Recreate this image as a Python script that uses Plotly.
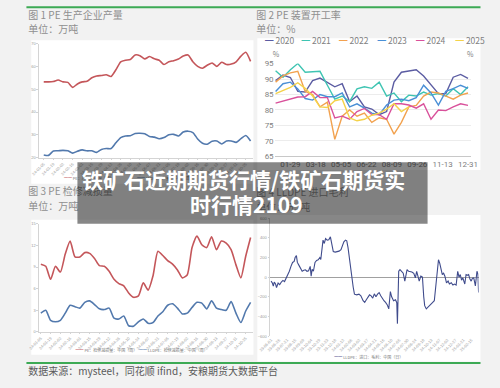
import plotly.graph_objects as go
import pandas as pd

W, H = 500, 388
def fx(px): return px / W
def fy(py): return 1 - py / H

# ---------------- Chart 1: PE 生产企业产量 (万吨, weekly) ----------------
c1_dates = pd.date_range("2024-01-05", periods=44, freq="7D")
pe_output = [53.2, 53.2, 53.4, 54.0, 53.2, 53.0, 50.8, 52.3, 53.2, 53.5,
             55.0, 55.8, 56.0, 56.3, 55.6, 58.5, 62.0, 62.7, 63.0, 65.0,
             64.7, 63.3, 64.3, 63.3, 62.7, 60.8, 62.0, 62.5, 63.2, 64.5,
             65.0, 62.0, 60.0, 59.2, 60.5, 61.5, 60.0, 61.8, 60.8, 61.0,
             62.0, 64.5, 66.2, 62.2]
lldpe_output = [21.2, 21.0, 22.9, 23.0, 23.2, 23.0, 22.0, 22.8, 23.4, 23.0,
                23.0, 22.3, 23.6, 24.0, 24.0, 26.5, 28.8, 29.5, 29.6, 30.6,
                30.7, 30.5, 29.3, 29.0, 28.3, 28.8, 30.0, 30.2, 29.5, 31.2,
                31.6, 31.0, 28.2, 26.3, 25.9, 27.2, 27.3, 26.0, 27.3, 27.3,
                26.7, 28.3, 29.7, 27.3]

# ---------------- Chart 2: PE 装置开工率 (%) ----------------
rate_dates = pd.date_range("2021-01-01", periods=27, freq="14D")
rate_2020 = [89.5, 91.3, 90.5, 86.0, 85.8, 89.5, 90.3, 89.0, 87.5, 88.5, 82.7, 84.5, 81.0, 80.3,
             78.5, 79.5, 89.0, 92.2, 92.5, 93.0, 91.0, 88.0, 85.3, 85.3, 90.6, 91.5, 90.2]
rate_2021 = [92.7, 90.6, 93.0, 95.0, 92.2, 92.3, 92.5, 88.0, 83.5, 84.5, 82.7, 86.8, 87.5, 87.0,
             89.0, 84.5, 85.5, 82.7, 84.8, 84.5, 85.8, 84.8, 85.3, 84.5, 86.9, 85.0, 87.5]
rate_2022 = [89.0, 91.0, 92.0, 92.5, 86.0, 85.0, 81.0, 82.5, 70.5, 78.0, 80.0, 78.0, 79.0, 76.0,
             77.5, 77.0, 72.2, 76.0, 81.0, 81.5, 84.5, 85.8, 85.5, 84.5, 83.5, 84.8, 85.5]
rate_2023 = [86.0, 88.5, 89.0, 86.8, 83.7, 83.2, 85.0, 84.3, 84.3, 85.5, 81.0, 82.0, 80.6, 79.0,
             78.5, 81.6, 83.2, 83.5, 83.0, 84.0, 88.0, 85.5, 81.6, 86.0, 86.9, 88.0, 87.0]
rate_2024 = [82.2, 82.8, 83.6, 84.2, 84.3, 86.0, 84.0, 84.0, 77.4, 78.0, 77.0, 79.5, 80.5, 78.5,
             78.5, 77.0, 82.0, 82.0, 81.6, 80.6, 82.0, 77.0, 80.0, 79.8, 81.0, 82.0, 81.5]
rate_2025 = [85.3, 86.3, 87.3, 88.8, 87.0, 84.5, 81.0, 80.8, 83.0, 83.5, 77.4, 76.5, 77.0, 78.3,
             79.0, 80.3, 82.0, 79.5, 81.0]
rate_years = ["2020", "2021", "2022", "2023", "2024", "2025"]
rate_colors = ["#5b5ca2", "#3ec4b2", "#f2a24f", "#4a8fd6", "#d9519b", "#f4d24a"]
rate_ticks = ["2021-01-29", "2021-03-18", "2021-05-05", "2021-06-22",
              "2021-08-09", "2021-09-26", "2021-11-13", "2021-12-31"]

# ---------------- Chart 3: PE 检修减损量 (万吨, weekly) ----------------
c3_dates = pd.date_range("2024-01-05", periods=44, freq="7D")
pe_loss = [9.4, 9.1, 7.3, 9.1, 8.3, 10.8, 12.6, 10.4, 10.4, 11.0,
           10.9, 10.2, 9.2, 9.1, 8.4, 7.3, 6.7, 6.4, 5.4, 4.8,
           5.0, 6.8, 5.8, 7.8, 11.2, 10.6, 9.9, 9.4, 8.6, 7.5,
           7.9, 11.7, 13.3, 12.1, 11.7, 13.2, 11.4, 12.6, 12.3, 11.4,
           9.3, 7.5, 10.5, 13.1]
lldpe_loss = [2.6, 3.0, 1.6, 1.4, 1.6, 2.6, 3.7, 3.5, 3.3, 4.1,
              4.3, 3.8, 3.2, 3.1, 3.3, 1.9, 1.8, 2.2, 0.85, 0.8,
              1.4, 1.8, 1.2, 1.3, 2.2, 2.8, 3.7, 3.9, 3.3, 2.5,
              2.6, 3.4, 4.1, 4.0, 3.2, 4.3, 3.3, 3.1, 3.0, 4.2,
              2.6, 1.3, 2.9, 4.1]

# ---------------- Chart 4: LLDPE 进口毛利 (元/吨, daily) ----------------
lldpe_day = [0, 4, 7, 10, 14, 17, 22, 27, 32, 37,
             42, 47, 52, 57, 62, 67, 72, 75, 79, 82,
             87, 92, 97, 102, 107, 112, 117, 122, 125, 128,
             132, 137, 142, 147, 152, 155, 159, 162, 166, 170,
             175, 180, 185, 189, 194, 200, 206, 212, 218, 223,
             227, 232, 236, 240, 244, 248, 252, 256, 260, 267,
             274, 280, 287, 292, 297, 302, 307, 312, 317, 322,
             327, 332, 337, 342, 347, 352, 357, 362, 367, 370,
             372, 376, 382, 388, 392, 394, 396, 398, 402, 407,
             412, 417, 420, 424, 429, 434, 439, 445, 450, 454,
             458, 462, 467, 472, 476, 479, 484, 490, 497, 504,
             509, 512, 516, 519, 522, 526, 530, 534, 538, 542,
             547, 552, 556, 562, 567, 572, 577, 582, 586, 590,
             594, 598, 604, 608, 612, 616, 620, 624, 628, 632,
             637, 640, 642, 645, 647]
lldpe_margin = [-40, -60, -90, -50, -70, -107, -60, -75, -50, -33,
                -45, -10, 10, 60, 110, 150, 160, 200, 220, 150,
                120, 80, 60, 70, 75, 60, 65, 110, 10, 80,
                60, 150, 170, 177, 200, 180, 340, 377, 343, 393,
                377, 380, 410, 330, 260, 255, 260, 265, 280, 330,
                360, 377, 370, 300, 200, 60, -30, -100, -173, -180,
                -173, -190, -240, -257, -230, -210, -180, -190, -213, -170,
                -200, -173, -157, -190, -220, -240, -257, -280, -323, -250,
                -147, -200, -240, -230, -260, -473, -300, 60, 77, 60,
                40, -40, 30, 77, 60, 60, 53, 40, -7, 60,
                0, -40, 10, 0, -200, -290, -323, -300, -273, -257,
                -240, -150, -40, 80, 177, 140, 60, 27, 40, 10,
                -57, -40, -70, -57, -80, -70, -80, 60, 0, 27,
                -30, -7, -70, 27, 20, 27, -20, -40, -10, -7,
                -90, -20, 60, 30, -157]
c4_base = pd.Timestamp("2023-06-01")
c4_dates = c4_base + pd.to_timedelta(lldpe_day, unit="D")

RED, BLUE, NAVY = "#c4565a", "#5279ad", "#3f4b8c"
CJK = "Noto Sans CJK SC"

fig = go.Figure()

# chart 1
fig.add_trace(go.Scatter(x=c1_dates, y=pe_output, mode="lines", line=dict(color=RED, width=1.6, shape="spline", smoothing=0.6),
                         xaxis="x", yaxis="y", showlegend=False))
fig.add_trace(go.Scatter(x=c1_dates, y=lldpe_output, mode="lines", line=dict(color=BLUE, width=1.6, shape="spline", smoothing=0.6),
                         xaxis="x", yaxis="y", showlegend=False))
# chart 2
for yr, col, vals in zip(rate_years, rate_colors, [rate_2020, rate_2021, rate_2022, rate_2023, rate_2024, rate_2025]):
    fig.add_trace(go.Scatter(x=rate_dates[:len(vals)], y=vals, mode="lines", name=yr,
                             line=dict(color=col, width=1.4), xaxis="x2", yaxis="y2", showlegend=False))
# chart 3
fig.add_trace(go.Scatter(x=c3_dates, y=pe_loss, mode="lines", line=dict(color=RED, width=1.6, shape="spline", smoothing=0.6),
                         xaxis="x3", yaxis="y3", showlegend=False))
fig.add_trace(go.Scatter(x=c3_dates, y=lldpe_loss, mode="lines", line=dict(color=BLUE, width=1.6, shape="spline", smoothing=0.6),
                         xaxis="x3", yaxis="y3", showlegend=False))
# chart 4
fig.add_trace(go.Scatter(x=c4_dates, y=lldpe_margin, mode="lines", line=dict(color=NAVY, width=1.1),
                         xaxis="x4", yaxis="y4", showlegend=False))

# ---- static texts on a full-page canvas axis
def sw(c, n=1):
    return "<span style='color:%s'>%s</span>" % (c, "━" * n)

texts = [
    ("图 1 PE 生产企业产量", 17, 12.5, 10, "#8f8f8f"),
    ("单位：万吨", 17, 27.5, 10, "#8f8f8f"),
    ("图 2 PE 装置开工率", 254, 12.5, 10, "#8f8f8f"),
    ("单位：%", 254, 27.5, 10, "#8f8f8f"),
    ("图 3 PE 检修减损量", 17, 193, 10, "#8f8f8f"),
    ("单位：万吨", 17, 208, 10, "#8f8f8f"),
    ("图 4 LLDPE 进口毛利", 254, 194, 10, "#8f8f8f"),
    ("单位：元/吨", 254, 209, 10, "#8f8f8f"),
    ("数据来源：mysteel，同花顺 ifind，安粮期货大数据平台", 17, 377, 10, "#5a5a5a"),
    ("%", 271, 52, 7, "#808080"),
    ("%", 473, 52, 7, "#808080"),
    (sw(RED, 2) + " PE：产量：中国（周）", 54, 179, 4, "#777777"),
    (sw(BLUE, 2) + " LLDPE：产量：中国（周）", 130, 179, 4, "#777777"),
    (sw(RED, 2) + " PE：检修减损量：中国（周）", 66, 355.7, 4, "#777777"),
    (sw(BLUE, 2) + " LLDPE：检修减损量：中国（周）", 132, 355.7, 4, "#777777"),
    (sw(NAVY, 2) + " LLDPE：进口：毛利：中国（日）", 335, 362, 4, "#777777"),
]
leg_x = [263, 301, 340, 380, 420, 461]
for yr, col, lx in zip(rate_years, rate_colors, leg_x):
    texts.append((sw(col) + " " + yr, lx, 39, 8.5, "#808080"))

fig.add_trace(go.Scatter(
    x=[t[1] for t in texts], y=[t[2] for t in texts], text=[t[0] for t in texts],
    mode="text", textposition="middle right",
    textfont=dict(family=CJK, size=[t[3] for t in texts], color=[t[4] for t in texts]),
    xaxis="x5", yaxis="y5", showlegend=False, hoverinfo="skip"))

tiny = dict(family="Arial", size=4, color="#9a9a9a")
wk = pd.Timedelta(days=7)
ax_common = dict(showgrid=False, zeroline=False, showline=True, linecolor="#d4d4d4", linewidth=1)
small = dict(family="Roboto", size=8, color="#808080")

shapes = [
    # white panels
    dict(type="rect", xref="paper", yref="paper", x0=fx(20), x1=fx(251), y0=fy(184), y1=fy(37), fillcolor="white", line_width=0, layer="below"),
    dict(type="rect", xref="paper", yref="paper", x0=fx(255), x1=fx(487), y0=fy(170), y1=fy(35), fillcolor="white", line_width=0, layer="below"),
    dict(type="rect", xref="paper", yref="paper", x0=fx(20), x1=fx(251), y0=fy(359), y1=fy(221), fillcolor="white", line_width=0, layer="below"),
    dict(type="rect", xref="paper", yref="paper", x0=fx(255), x1=fx(487), y0=fy(366), y1=fy(216), fillcolor="white", line_width=0, layer="below"),
    # green rules
    dict(type="line", xref="paper", yref="paper", x0=fx(15), x1=fx(487), y0=fy(3.3), y1=fy(3.3), line=dict(color="#3daa55", width=2)),
    dict(type="line", xref="paper", yref="paper", x0=fx(15), x1=fx(487), y0=fy(367.5), y1=fy(367.5), line=dict(color="#3daa55", width=2)),
    # title overlay
    dict(type="rect", xref="paper", yref="paper", x0=fx(68), x1=fx(432), y0=fy(225), y1=fy(162),
         fillcolor="rgba(0,0,0,0.47)", line_width=0, layer="above"),
]

title_font = dict(family=CJK, size=21, color="white", weight="bold")
annotations = [
    dict(text="铁矿石近期期货行情/铁矿石期货实", x=fx(241), y=fy(179.5), xref="paper", yref="paper",
         showarrow=False, xanchor="center", yanchor="middle", font=title_font),
    dict(text="时行情2109", x=fx(244), y=fy(204.5), xref="paper", yref="paper",
         showarrow=False, xanchor="center", yanchor="middle", font=title_font),
]

fig.update_layout(
    width=W, height=H, margin=dict(l=0, r=0, t=0, b=0),
    paper_bgcolor="#f2f2f2", plot_bgcolor="rgba(0,0,0,0)",
    showlegend=False,
    xaxis=dict(domain=[fx(28), fx(250)], anchor="y", type="date",
               range=[c1_dates[0] - wk, c1_dates[0] + 43.4 * wk],
               tickvals=list(c1_dates[::2]), tickformat="%y-%m-%d", tickangle=-45,
               tickfont=tiny, ticks="outside", ticklen=1.5, tickcolor="#d4d4d4", **ax_common),
    yaxis=dict(domain=[fy(157.3), fy(40.5)], anchor="x", range=[20, 70], dtick=10,
               tickfont=tiny, ticks="outside", ticklen=1.5, tickcolor="#d4d4d4", **ax_common),
    xaxis2=dict(domain=[fx(273), fx(477)], anchor="y2", type="date",
                range=["2020-12-30 04:00", "2022-01-05 10:00"],
                tickvals=rate_ticks, tickformat="%m-%d", tickangle=0, tickfont=small,
                showgrid=False, zeroline=False, showline=True, linecolor="#c8c8c8"),
    yaxis2=dict(domain=[fy(156), fy(61)], anchor="x2", range=[65, 95], dtick=5, tickfont=small,
                showgrid=True, gridcolor="#ececec", zeroline=False, showline=False),
    yaxis6=dict(overlaying="y2", anchor="x2", side="right", range=[65, 95],
                tickvals=[65, 70, 75, 80, 85, 90, 95], ticktext=["6", "7", "7", "8", "8", "9", "9"],
                tickfont=small, showgrid=False, zeroline=False, showline=False),
    xaxis3=dict(domain=[fx(28), fx(250)], anchor="y3", type="date",
                range=[c3_dates[0] - 0.394 * wk, c3_dates[0] + 43.39 * wk],
                tickvals=list(c3_dates[::2]), tickformat="%y-%m-%d", tickangle=-45,
                tickfont=tiny, ticks="outside", ticklen=1.5, tickcolor="#d4d4d4", **ax_common),
    yaxis3=dict(domain=[fy(335.7), fy(225)], anchor="x3", range=[0, 15], dtick=3,
                tickfont=tiny, ticks="outside", ticklen=1.5, tickcolor="#d4d4d4", **ax_common),
    xaxis4=dict(domain=[fx(268.3), fx(485)], anchor="y4", type="date",
                range=[c4_base - pd.Timedelta(days=3), c4_base + pd.Timedelta(days=647)],
                tick0=c4_base, dtick=25 * 86400000, tickformat="%y-%m-%d", tickangle=-45,
                tickfont=tiny, showgrid=False, zeroline=False, showline=False),
    yaxis4=dict(domain=[fy(340), fy(219.3)], anchor="x4", range=[-600, 600], dtick=200,
                tickfont=tiny, showgrid=False, zeroline=True, zerolinecolor="#a0a0a0", zerolinewidth=1,
                showline=True, linecolor="#d4d4d4", ticks="outside", ticklen=1.5, tickcolor="#d4d4d4"),
    xaxis5=dict(domain=[0, 1], range=[0, W], visible=False, anchor="y5", fixedrange=True),
    yaxis5=dict(domain=[0, 1], range=[H, 0], visible=False, anchor="x5", fixedrange=True),
    shapes=shapes,
    annotations=annotations,
)

fig.write_html("out.html")
